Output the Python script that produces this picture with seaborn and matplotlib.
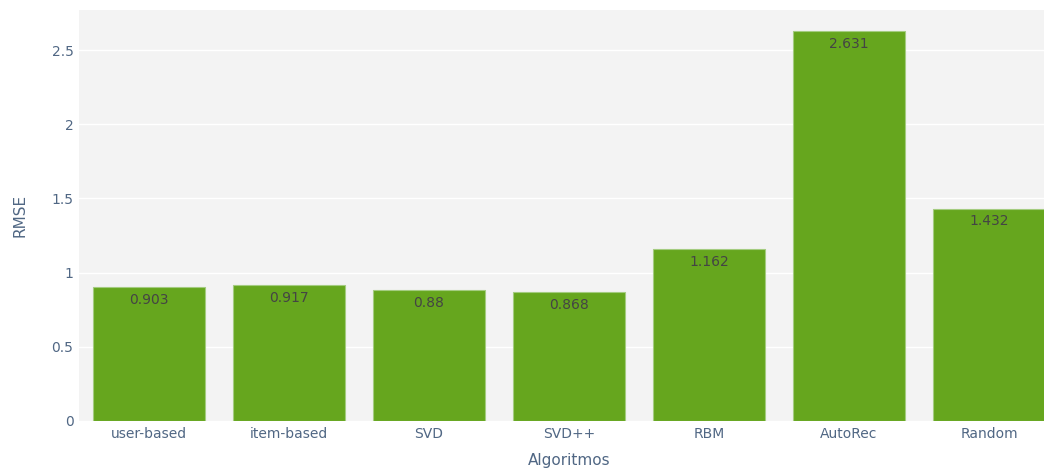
import pandas as pd
import seaborn as sns
import matplotlib.pyplot as plt

# RMSE per algorithm
algoritmos = ['user-based', 'item-based', 'SVD', 'SVD++', 'RBM', 'AutoRec', 'Random']
rmse = [0.903, 0.917, 0.88, 0.868, 1.162, 2.631, 1.432]
labels = ['0.903', '0.917', '0.88', '0.868', '1.162', '2.631', '1.432']

df = pd.DataFrame({'Algoritmos': algoritmos, 'RMSE': rmse})

sns.set_style('white')
plt.rcParams['font.family'] = ['DejaVu Sans']

fig = plt.figure(figsize=(10.44, 4.70), dpi=100)
# plot area runs past the right edge like the original screenshot
ax = fig.add_axes([79 / 1044, 49 / 470, 980 / 1044, 411 / 470])
ax.set_facecolor('#f3f3f3')

sns.barplot(data=df, x='Algoritmos', y='RMSE', color='#66a61e', saturation=1,
            width=0.8, edgecolor='#a4cc80', linewidth=0.8, ax=ax, zorder=3)

for i, (v, t) in enumerate(zip(rmse, labels)):
    ax.text(i, v - 0.04, t, ha='center', va='top', fontsize=10, color='#444444', zorder=4)

ax.set_ylim(0, 2.77)
ax.set_xlim(-0.5, 6.5)
ax.set_yticks([0, 0.5, 1, 1.5, 2, 2.5])
ax.set_yticklabels(['0', '0.5', '1', '1.5', '2', '2.5'])
ax.grid(axis='y', color='white', linewidth=1, zorder=0)
ax.set_axisbelow(True)
for s in ax.spines.values():
    s.set_visible(False)
ax.tick_params(axis='both', length=0, labelsize=10, labelcolor='#506784', pad=4)
ax.set_xlabel('Algoritmos', fontsize=11, color='#506784', labelpad=9)
ax.set_ylabel('RMSE', fontsize=11, color='#506784', labelpad=17)

fig.savefig('out.png', dpi=100)
